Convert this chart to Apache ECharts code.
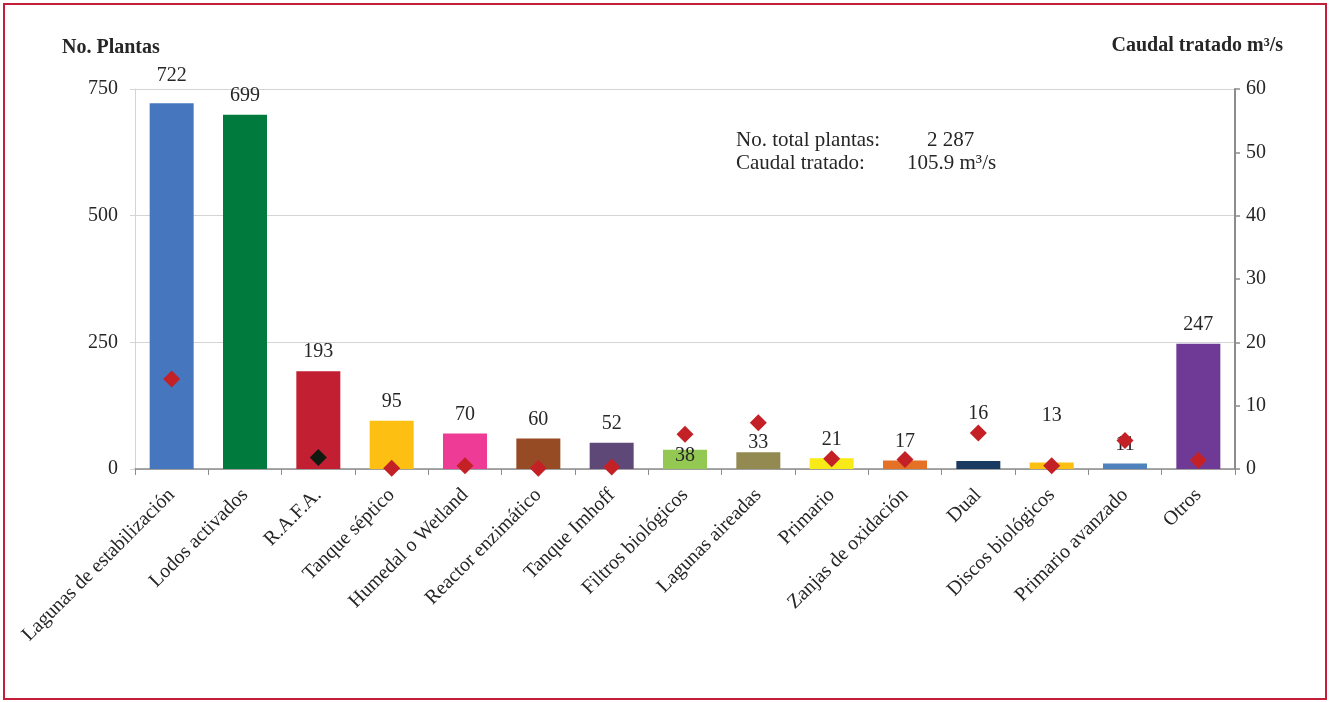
<!DOCTYPE html>
<html>
<head>
<meta charset="utf-8">
<script src="https://cdn.jsdelivr.net/npm/echarts@6/dist/echarts.min.js"></script>
<style>html,body{margin:0;padding:0;background:#fff}#c{width:1330px;height:702px}</style>
</head>
<body>
<div id="c"></div>
<script>
const categories = ["Lagunas de estabilización","Lodos activados","R.A.F.A.","Tanque séptico","Humedal o Wetland","Reactor enzimático","Tanque Imhoff","Filtros biológicos","Lagunas aireadas","Primario","Zanjas de oxidación","Dual","Discos biológicos","Primario avanzado","Otros"];
const plantas = [722,699,193,95,70,60,52,38,33,21,17,16,13,11,247];
const caudal = [14.2,61.7,1.8,0.1,0.5,0.1,0.3,5.5,7.3,1.6,1.5,5.7,0.5,4.5,1.4];
const leftTicks = {min:0,max:750,interval:250};
const rightTicks = {min:0,max:60,interval:10};
const totalText = ["No. total plantas:","2 287","Caudal tratado:","105.9 m³/s"];

// styles (kept separate from data)
const barColors = ["#4677BE","#007A3D","#C21F32","#FDBF12","#EE3C96","#964B24","#5E4878","#93C953","#938A52","#F7EA16","#E57127","#1B3A62","#FDBF12","#4F81BD","#6F3A96"];
const diamondColors = caudal.map((v,i)=> i===2 ? "#111a11" : "#C42127");
const labelOffsets = [-8,0,0,0,0,0,0,25,9,0,0,-28,-28,0,0];

const FONT = "Liberation Serif";
const TXT = "#262626";
const FS = 20;

const chart = echarts.init(document.getElementById('c'));
chart.setOption({
  animation:false,
  backgroundColor:'#fff',
  textStyle:{fontFamily:FONT},
  grid:{left:135,right:95,top:89,bottom:233,containLabel:false},
  xAxis:{
    type:'category',
    data:categories,
    boundaryGap:true,
    axisLine:{lineStyle:{color:'#8c8c8c',width:1.5}},
    axisTick:{show:true,length:6,lineStyle:{color:'#8c8c8c'}},
    axisLabel:{rotate:45,interval:0,margin:23,fontFamily:FONT,fontSize:FS,color:TXT}
  },
  yAxis:[
    {type:'value',min:leftTicks.min,max:leftTicks.max,interval:leftTicks.interval,
     axisLine:{show:true,lineStyle:{color:'#d4d4d4',width:1}},
     axisTick:{show:true,length:5,lineStyle:{color:'#d4d4d4'}},
     splitLine:{show:true,lineStyle:{color:'#d4d4d4',width:1}},
     axisLabel:{margin:17,fontFamily:FONT,fontSize:FS,color:TXT}},
    {type:'value',position:'right',min:rightTicks.min,max:rightTicks.max,interval:rightTicks.interval,
     axisLine:{show:true,lineStyle:{color:'#8c8c8c',width:2}},
     axisTick:{show:true,length:5,lineStyle:{color:'#8c8c8c',width:1.5}},
     splitLine:{show:false},
     axisLabel:{margin:11,fontFamily:FONT,fontSize:FS,color:TXT}}
  ],
  series:[
    {type:'bar',yAxisIndex:0,barWidth:44,z:2,
     data:plantas.map((v,i)=>({value:v,itemStyle:{color:barColors[i]},
       label:{offset:[0,labelOffsets[i]]}})),
     label:{show:true,position:'top',distance:9,fontFamily:FONT,fontSize:FS,color:TXT}},
    {type:'scatter',yAxisIndex:1,symbol:'diamond',symbolSize:17,z:5,clip:true,
     data:caudal.map((v,i)=>({value:v,itemStyle:{color:diamondColors[i],opacity:1}}))}
  ],
  graphic:[
    {type:'rect',shape:{x:4,y:4,width:1322,height:695},style:{fill:'none',stroke:'#C41E3A',lineWidth:2},silent:true},
    {type:'text',left:62,top:38,style:{text:'No. Plantas',font:'bold 20px "Liberation Serif"',fill:TXT}},
    {type:'text',right:47,top:36,style:{text:'Caudal tratado m³/s',font:'bold 20px "Liberation Serif"',fill:TXT}},
    {type:'text',left:736,top:130,style:{text:totalText[0],font:'21px "Liberation Serif"',fill:TXT}},
    {type:'text',left:927,top:130,style:{text:totalText[1],font:'21px "Liberation Serif"',fill:TXT}},
    {type:'text',left:736,top:153,style:{text:totalText[2],font:'21px "Liberation Serif"',fill:TXT}},
    {type:'text',left:907,top:153,style:{text:totalText[3],font:'21px "Liberation Serif"',fill:TXT}}
  ]
});
</script>
</body>
</html>
